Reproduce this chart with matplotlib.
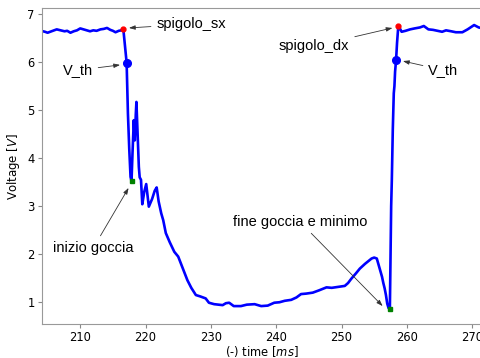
import matplotlib.pyplot as plt

# signal
time_ms = [
    204.0, 204.6, 205.0, 205.6, 206.4, 207.0, 207.6, 208.0, 208.5, 209.0,
    209.5, 210.0, 210.5, 211.0, 211.5, 212.0, 212.5, 213.1, 213.6, 214.1,
    214.6, 215.0, 215.4, 215.9, 216.3, 216.6,
    217.1, 217.3, 217.5, 217.7, 217.85, 218.0, 218.2, 218.35, 218.5, 218.6,
    218.75, 218.97, 219.1, 219.3, 219.5, 219.8, 220.1, 220.5, 221.0, 221.4,
    221.7, 222.0, 222.4, 222.7, 223.1, 223.7, 224.4, 225.0, 225.4, 225.9,
    226.4, 227.0, 227.7, 228.4, 229.2, 229.7, 230.5, 231.2, 231.8, 232.3,
    232.8, 233.5, 234.6, 235.5, 236.7, 237.7, 238.7, 239.7, 240.5, 241.3,
    242.3, 243.1, 243.8, 244.6, 245.6, 246.6, 247.7, 248.5, 249.5, 250.5,
    251.0, 251.5, 252.2, 252.8, 253.6, 254.6, 255.0, 255.4, 255.8, 256.2,
    256.4, 256.6, 256.8, 257.0, 257.2, 257.4,
    257.5, 257.6, 257.7, 257.85, 258.0, 258.1, 258.2, 258.35, 258.5, 258.7,
    259.2, 259.8, 260.5, 261.2, 262.0, 262.6, 263.3, 264.0, 264.7, 265.4,
    266.0, 266.8, 267.5, 268.5, 269.3, 270.3, 271.0, 271.7,
]
voltage = [
    6.65, 6.63, 6.61, 6.64, 6.68, 6.66, 6.64, 6.65, 6.61, 6.64,
    6.66, 6.70, 6.68, 6.66, 6.64, 6.66, 6.65, 6.68, 6.69, 6.71,
    6.67, 6.65, 6.62, 6.65, 6.66, 6.68,
    5.99, 4.93, 4.20, 3.61, 3.52, 4.10, 4.79, 4.37, 4.90, 5.17,
    4.60, 3.82, 3.60, 3.55, 3.04, 3.30, 3.46, 2.99, 3.15, 3.32,
    3.39, 3.10, 2.85, 2.71, 2.44, 2.25, 2.05, 1.95, 1.81, 1.63,
    1.46, 1.30, 1.15, 1.12, 1.08, 0.99, 0.96, 0.95, 0.94, 0.98,
    0.99, 0.92, 0.92, 0.95, 0.96, 0.92, 0.93, 0.99, 1.00, 1.03,
    1.05, 1.10, 1.17, 1.18, 1.20, 1.25, 1.31, 1.30, 1.32, 1.34,
    1.40, 1.49, 1.60, 1.70, 1.80, 1.91, 1.93, 1.91, 1.72, 1.53,
    1.40, 1.29, 1.15, 0.97, 0.88, 0.85,
    2.00, 3.00, 3.54, 4.60, 5.35, 5.50, 5.80, 6.04, 6.40, 6.76,
    6.63, 6.65, 6.68, 6.70, 6.72, 6.75, 6.68, 6.67, 6.65, 6.63,
    6.66, 6.64, 6.62, 6.62, 6.68, 6.77, 6.72, 6.70,
]

# special points
edge_t = [216.6, 258.7]
edge_v = [6.68, 6.76]
vth_t = [217.1, 258.35]
vth_v = [5.99, 6.04]
drop_t = [217.85, 257.4]
drop_v = [3.52, 0.85]

# annotations: text, arrow tip, text centre
labels = ["spigolo_sx", "V_th", "spigolo_dx", "V_th", "inizio goccia", "fine goccia e minimo"]
tips = [(217.45, 6.71), (216.1, 5.94), (257.8, 6.71), (259.4, 6.02), (217.4, 3.38), (256.3, 0.92)]
text_pos = [(227.0, 6.79), (209.6, 5.83), (245.8, 6.33), (265.6, 5.83), (212.0, 2.13), (243.6, 2.68)]

fig = plt.figure(figsize=(4.81, 3.58), dpi=100)
ax = fig.add_axes([0.0867, 0.094, 0.9153, 0.883])

ax.plot(time_ms, voltage, color="blue", lw=1.9, zorder=2)
ax.plot(edge_t, edge_v, "o", color="red", ms=3.5, zorder=3)
ax.plot(vth_t, vth_v, "o", color="blue", ms=5.5, zorder=3)
ax.plot(drop_t, drop_v, "s", color="green", ms=3.5, zorder=3)

for text, tip, pos in zip(labels, tips, text_pos):
    ax.annotate(
        text, xy=tip, xytext=pos, ha="center", va="center",
        fontsize=10.5, family="Liberation Sans",
        arrowprops=dict(arrowstyle="-|>,head_length=0.35,head_width=0.12",
                        color="#333333", lw=0.6, shrinkA=2, shrinkB=0),
    )

ax.set_xlim(204.1, 271.5)
ax.set_ylim(0.54, 7.12)
ax.set_xlabel("(-) time [$ms$]", fontsize=8.3, labelpad=0)
ax.set_ylabel("Voltage [$V$]", fontsize=8.5, labelpad=4)
ax.tick_params(labelsize=8.3, color="#888888", length=3, pad=2)

for side in ["left", "bottom", "top", "right"]:
    ax.spines[side].set_color("#999999")

fig.savefig("out.png", dpi=100)
